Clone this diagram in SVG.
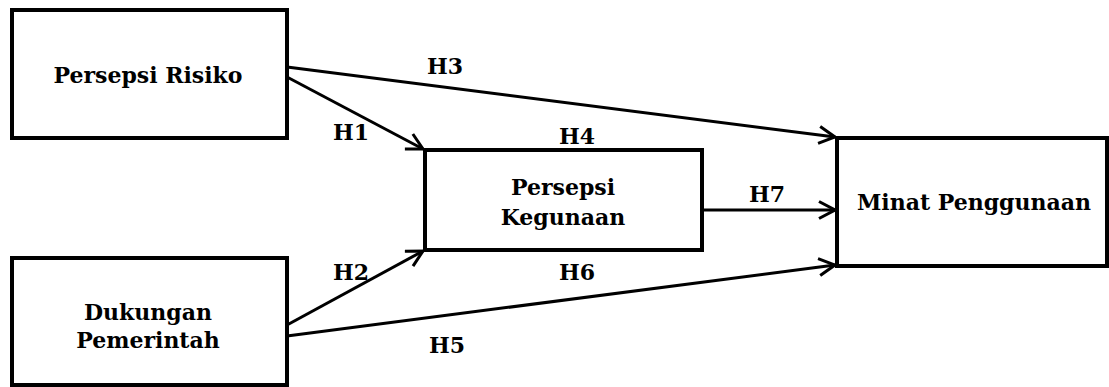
<svg xmlns="http://www.w3.org/2000/svg" width="1109" height="387" viewBox="0 0 1109 387">
<style>
.box{fill:#fff;stroke:#000;stroke-width:4}
.t{font-family:"DejaVu Serif","Liberation Serif",serif;font-weight:bold;font-size:22px;fill:#000;text-anchor:middle}
.c{fill:none;stroke:#000;stroke-width:3}
</style>
<defs>
<marker id="arr" viewBox="0 0 20 20" refX="19" refY="10" markerWidth="20" markerHeight="20" markerUnits="userSpaceOnUse" orient="auto">
<path d="M3,1.5 L19,10 L3,18.5" fill="none" stroke="#000" stroke-width="3"/>
</marker>
</defs>
<g id="connectors">
<line class="c" x1="287" y1="67" x2="835" y2="137" marker-end="url(#arr)"/>
<line class="c" x1="287" y1="77" x2="423" y2="149" marker-end="url(#arr)"/>
<line class="c" x1="287" y1="325" x2="423" y2="251" marker-end="url(#arr)"/>
<line class="c" x1="287" y1="336" x2="835" y2="265" marker-end="url(#arr)"/>
<line class="c" x1="702" y1="210" x2="835" y2="210" marker-end="url(#arr)"/>
<text class="t" x="445" y="74">H3</text>
<text class="t" x="351" y="140">H1</text>
<text class="t" x="577" y="144">H4</text>
<text class="t" x="767" y="202">H7</text>
<text class="t" x="577" y="280">H6</text>
<text class="t" x="351" y="280">H2</text>
<text class="t" x="447" y="353">H5</text>
</g>
<g id="persepsi-risiko">
<rect class="box" x="12" y="10" width="275" height="128"/>
<text class="t" x="148" y="83">Persepsi Risiko</text>
</g>
<g id="dukungan-pemerintah">
<rect class="box" x="12" y="258" width="275" height="127"/>
<text class="t" x="148" y="320">Dukungan</text>
<text class="t" x="148" y="348">Pemerintah</text>
</g>
<g id="persepsi-kegunaan">
<rect class="box" x="425" y="150" width="277" height="100"/>
<text class="t" x="563" y="195">Persepsi</text>
<text class="t" x="563" y="225">Kegunaan</text>
</g>
<g id="minat-penggunaan">
<rect class="box" x="837" y="138" width="270" height="128"/>
<text class="t" x="974" y="210">Minat Penggunaan</text>
</g>
</svg>
